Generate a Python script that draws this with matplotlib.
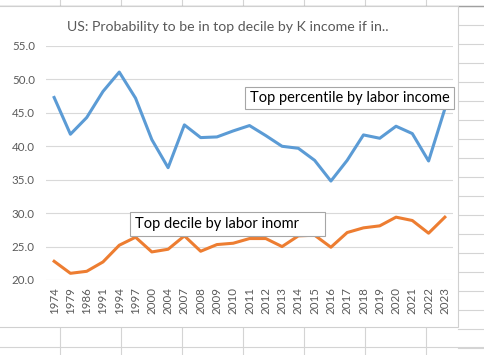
import matplotlib.pyplot as plt
from matplotlib.patches import Rectangle
from matplotlib.lines import Line2D

years = ["1974", "1979", "1986", "1991", "1994", "1997", "2000", "2004", "2007",
         "2008", "2009", "2010", "2011", "2012", "2013", "2014", "2015", "2016",
         "2017", "2018", "2019", "2020", "2021", "2022", "2023"]
top_percentile = [47.3, 41.8, 44.3, 48.2, 51.1, 47.2, 41.0, 36.8, 43.2,
                  41.3, 41.4, 42.3, 43.1, 41.6, 40.0, 39.7, 37.9, 34.8,
                  37.9, 41.7, 41.2, 43.0, 41.9, 37.8, 45.6]
top_decile = [22.8, 21.0, 21.3, 22.7, 25.2, 26.4, 24.2, 24.6, 26.6,
              24.3, 25.3, 25.5, 26.2, 26.2, 25.0, 26.6, 26.7, 24.9,
              27.1, 27.8, 28.1, 29.4, 28.9, 27.0, 29.4]
yticks = [20, 25, 30, 35, 40, 45, 50, 55]

W, H = 485, 355
plt.rcParams['font.family'] = ['Lato', 'DejaVu Sans']

fig = plt.figure(figsize=(W / 100, H / 100), dpi=100)
fig.patch.set_facecolor("white")


def fx(x):
    return x / W


def fy(y):
    return 1 - y / H


def hline(y, x0, x1, color="#D4D4D4", lw=0.8):
    fig.add_artist(Line2D([fx(x0), fx(x1)], [fy(y), fy(y)], color=color, lw=lw,
                          transform=fig.transFigure, zorder=0))


def vline(x, y0, y1, color="#D4D4D4", lw=0.8):
    fig.add_artist(Line2D([fx(x), fx(x)], [fy(y0), fy(y1)], color=color, lw=lw,
                          transform=fig.transFigure, zorder=0))


# spreadsheet cells around the chart
cols = [60, 121, 182, 243, 304, 365, 426]
for c in cols:
    vline(c, 0, 6)
    vline(c, 328, H)
for r in range(6, H, 19):
    hline(r, 458, W)
hline(347, 0, W)
hline(6, 0, W, color="#A0A0A0", lw=1.0)

# chart area
fig.add_artist(Rectangle((fx(-2), fy(327)), fx(460), fy(6) - fy(327),
                         facecolor="white", edgecolor="#D0D0D0", lw=0.8,
                         transform=fig.transFigure, zorder=1))

ax = fig.add_axes([fx(46), fy(280), fx(407), fy(46) - fy(280)])
ax.set_zorder(2)
ax.patch.set_alpha(0)
x = range(len(years))
ax.plot(x, top_percentile, color="#5B9BD5", lw=2.2, solid_joinstyle="round", zorder=3)
ax.plot(x, top_decile, color="#ED7D31", lw=2.2, solid_joinstyle="round", zorder=3)
ax.set_xlim(-0.5, len(years) - 0.5)
ax.set_ylim(20, 55)
ax.set_yticks(yticks)
ax.set_yticklabels([f"{v:.1f}" for v in yticks])
ax.set_xticks(list(x))
ax.set_xticklabels(years, rotation=90)
ax.tick_params(length=0, labelsize=8.3, labelcolor="#595959")
ax.tick_params(axis="y", pad=8)
ax.tick_params(axis="x", pad=5)
for s in ax.spines.values():
    s.set_visible(False)
ax.grid(axis="y", color="#D9D9D9", lw=0.8)
ax.set_axisbelow(True)

fig.text(fx(67), fy(27), "US: Probability to be in top decile by K income if in..",
         fontsize=10.2, color="#595959", va="center", ha="left", zorder=5)


def label_box(x0, y0, x1, y1, text):
    fig.add_artist(Rectangle((fx(x0), fy(y1)), fx(x1 - x0), fy(y0) - fy(y1),
                             facecolor="white", edgecolor="#A6A6A6", lw=0.8,
                             transform=fig.transFigure, zorder=6))
    fig.text(fx(x0 + 5), fy((y0 + y1) / 2), text, fontsize=10.5, color="black",
             va="center", ha="left", zorder=7)


label_box(245, 87, 454, 109, "Top percentile by labor income")
label_box(130, 212, 325, 236, "Top decile by labor inomr")

fig.savefig("out.png", dpi=100)
